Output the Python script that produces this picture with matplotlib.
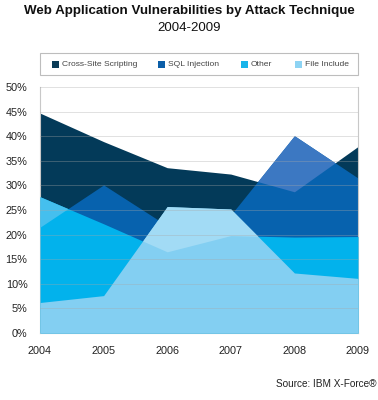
import numpy as np
import matplotlib
matplotlib.use("Agg")
import matplotlib.pyplot as plt
from matplotlib.patches import Rectangle

plt.rcParams['font.family'] = ['Liberation Sans', 'DejaVu Sans']

years = [2004, 2005, 2006, 2007, 2008, 2009]
series_names = ["Cross-Site Scripting", "SQL Injection", "Other", "File Include"]
xss = [44.7, 38.9, 33.6, 32.3, 28.7, 37.9]
sql = [21.5, 30.1, 21.8, 24.0, 40.1, 31.5]
other = [27.7, 22.2, 16.5, 19.8, 19.5, 19.6]
file_include = [6.2, 7.6, 25.7, 25.2, 12.2, 11.1]
yticks = [0, 5, 10, 15, 20, 25, 30, 35, 40, 45, 50]

c_xss = "#033a59"
c_sql = "#0762ae"
c_sql_light = "#3c78c2"
c_other = "#02b2ec"
c_other_light = "#45bfee"
c_fi = "#83cff2"
c_fi_light = "#a2dbf5"
legend_colors = ["#0a3b57", "#0b5ea8", "#18b4ea", "#8dd3f3"]

fig = plt.figure(figsize=(3.78, 4.0), dpi=100)
ax = fig.add_axes([40/378, 67/400, 318/378, 246/400])

x = np.array(years, dtype=float)
X, S, O, F = map(np.array, (xss, sql, other, file_include))

ax.fill_between(x, 0, X, color=c_xss, lw=0, zorder=1)
ax.fill_between(x, 0, S, color=c_sql, lw=0, zorder=2)
ax.fill_between(x, X, S, where=S > X, interpolate=True, color=c_sql_light, lw=0, zorder=2)
ax.fill_between(x, 0, O, color=c_other, lw=0, zorder=3)
ax.fill_between(x, S, O, where=O > S, interpolate=True, color=c_other_light, lw=0, zorder=3)
ax.fill_between(x, 0, F, color=c_fi, lw=0, zorder=4)
ax.fill_between(x, O, F, where=F > O, interpolate=True, color=c_fi_light, lw=0, zorder=4)

ax.set_xlim(years[0], years[-1])
ax.set_ylim(0, 50)
ax.set_yticks(yticks)
ax.set_yticklabels([f"{v}%" for v in yticks])
ax.set_xticks(years)
ax.set_xticklabels([str(y) for y in years])
for v in yticks[1:]:
    ax.axhline(v, color="#a8a8a8", lw=0.7, alpha=0.35, zorder=5)
ax.tick_params(axis='both', length=0, labelsize=7.8, colors="#222222")
ax.tick_params(axis='y', pad=9)
ax.tick_params(axis='x', pad=9)
for s in ("left", "right", "bottom"):
    ax.spines[s].set_color("#c8c8c8")
    ax.spines[s].set_linewidth(0.8)
ax.spines["top"].set_visible(False)

fig.text(0.5, 1 - 11/400, "Web Application Vulnerabilities by Attack Technique",
         ha="center", va="center", fontsize=9.6, fontweight="bold", color="#111111")
fig.text(0.5, 1 - 28/400, "2004-2009", ha="center", va="center", fontsize=9.5, color="#111111")

# legend box
lx0, ly0, lw_, lh_ = 40, 53, 318, 22
fig.patches.append(Rectangle((lx0/378, 1 - (ly0 + lh_)/400), lw_/378, lh_/400,
                             transform=fig.transFigure, facecolor="white",
                             edgecolor="#bdbdbd", lw=0.8))
sw_x = [52, 158, 241, 295]
for name, col, sx in zip(series_names, legend_colors, sw_x):
    fig.patches.append(Rectangle((sx/378, 1 - 68/400), 7/378, 7/400,
                                 transform=fig.transFigure, facecolor=col, edgecolor="none"))
    fig.text((sx + 10)/378, 1 - 64.5/400, name, ha="left", va="center",
             fontsize=6.1, color="#444444")

fig.text(376/378, 1 - 384/400, "Source: IBM X-Force®", ha="right", va="center",
         fontsize=7.2, color="#222222")

fig.savefig("out.png", dpi=100)
